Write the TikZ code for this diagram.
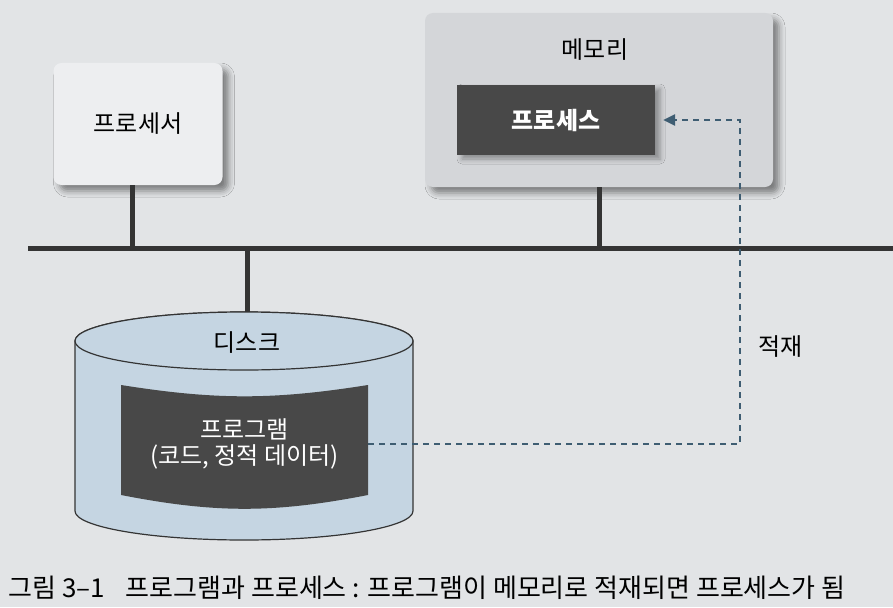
\documentclass[tikz,border=0pt]{standalone}
\usepackage{fontspec}
\setmainfont{Noto Sans CJK KR}
\usetikzlibrary{shadows.blur,arrows.meta}
\definecolor{pagebg}{HTML}{E2E4E6}
\definecolor{cpufill}{HTML}{EDEEF0}
\definecolor{memfill}{HTML}{D4D6D9}
\definecolor{darkbox}{HTML}{484848}
\definecolor{diskfill}{HTML}{C5D5E2}
\definecolor{buscol}{HTML}{343434}
\definecolor{loadcol}{HTML}{3E5D72}
\begin{document}
\begin{tikzpicture}[x=1pt,y=-1pt,font=\fontsize{24}{29}\selectfont,
    box/.style={rounded corners=8pt,inner sep=0pt,
      blur shadow={shadow xshift=6pt,shadow yshift=-6pt,shadow blur radius=6pt,shadow opacity=45}},
    bus/.style={line width=5pt,draw=buscol},
    disk/.style={draw=buscol,line width=1.2pt,fill=diskfill},
    load/.style={draw=loadcol,line width=2.5pt,dash pattern=on 6pt off 5pt,
      shorten >=8pt,-{Triangle[length=12pt,width=11pt]}}]
    \fill[pagebg] (0,0) rectangle (893,607);
    \useasboundingbox (0,0) rectangle (893,607);
    % units
    \node [box,fill=cpufill,minimum width=169pt,minimum height=122pt] (cpu) at (138,124) {프로세서};
    \node [box,fill=memfill,minimum width=348pt,minimum height=174pt] (mem) at (599,100) {};
    \node (memlbl) at (595,50) {메모리};
    \node [fill=darkbox,text=white,minimum width=198pt,minimum height=70pt,
      blur shadow={shadow xshift=5pt,shadow yshift=-4pt,shadow blur radius=5pt,shadow opacity=35}]
      (proc) at (556,120) {\bfseries 프로세스};
    % disk
    \filldraw[disk] (75,341) -- (75,511) arc[start angle=180,end angle=0,x radius=169,y radius=29]
      -- (413,341) arc[start angle=0,end angle=-180,x radius=169,y radius=29] -- cycle;
    \draw[disk] (244,341) ellipse[x radius=169,y radius=29];
    \coordinate (disktop) at (247,312);
    \node (disklbl) at (247,343) {디스크};
    \fill[darkbox] (121,385) to[bend right=9] (368,385) -- (368,495) to[bend left=11] (121,495) -- cycle;
    \node [text=white,align=center,minimum width=247pt,inner sep=0pt] (prog) at (244.5,444)
      {프로그램\\[-3pt](코드, 정적 데이터)};
    % bus
    \coordinate (busl) at (28,248);
    \coordinate (busr) at (893,248);
    \coordinate (loadup) at (740,120);
    \draw[bus] (busl) -- (busr);
    \draw[bus] ([xshift=-6pt]cpu.south) -- ([xshift=-6pt]cpu.south |- busl);
    \draw[bus] (mem.south) -- (mem.south |- busl);
    \draw[bus] (disktop) -- (disktop |- busl);
    % load
    \draw[load] (prog.east) -| node [pos=.65,right=14pt] (loadlbl) {적재} (loadup) -- (proc.east);
    \node [anchor=west,font=\fontsize{26}{31}\selectfont] (cap) at (5,588)
      {그림 3–1\hspace{0.8em}프로그램과 프로세스 : 프로그램이 메모리로 적재되면 프로세스가 됨};
\end{tikzpicture}
\end{document}
